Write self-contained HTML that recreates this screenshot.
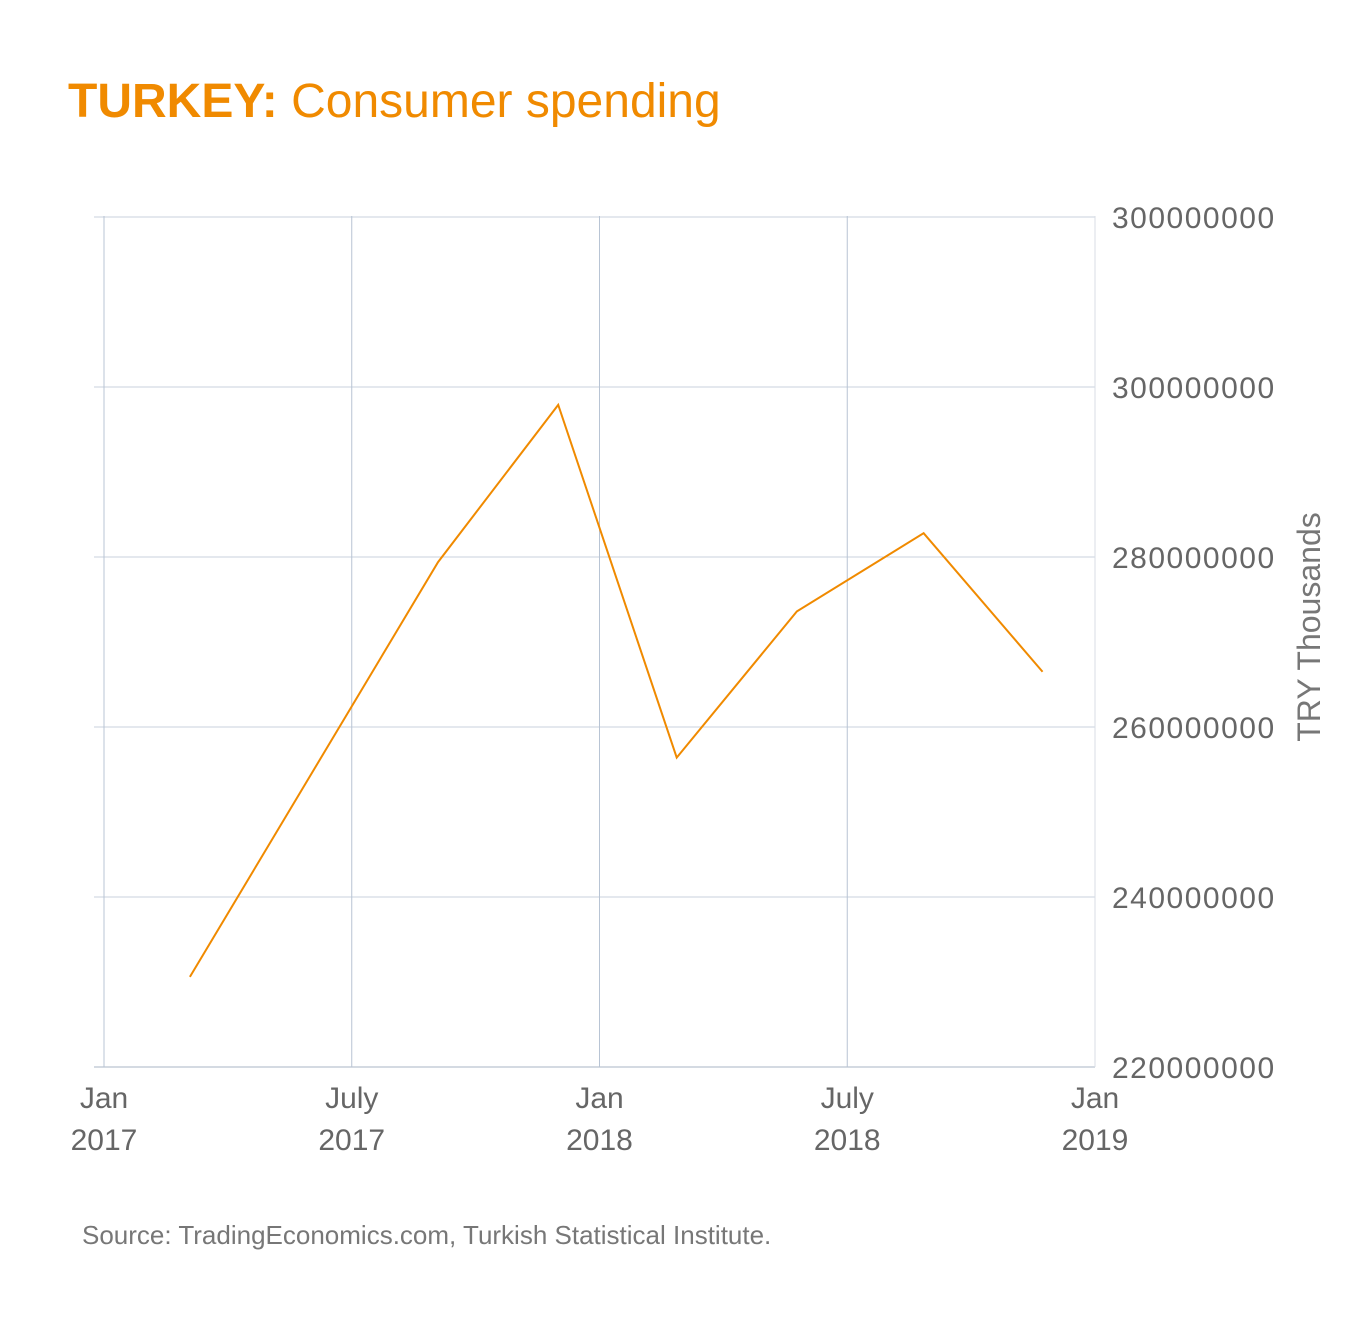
<!DOCTYPE html>
<html><head><meta charset="utf-8"><style>
body{margin:0;background:#fff;font-family:"Liberation Sans",sans-serif}
svg text{font-family:"Liberation Sans",sans-serif}
</style></head><body>
<svg width="1354" height="1312" viewBox="0 0 1354 1312">
<text x="68" y="117" font-size="48" fill="#f08a00"><tspan font-weight="bold">TURKEY:</tspan> Consumer spending</text>
<g id="grid"></g>
<g id="axes"></g>
<path id="line" fill="none" stroke="#f08a00" stroke-width="2"/>
<text transform="translate(1320,627) rotate(-90)" text-anchor="middle" font-size="32" fill="#777">TRY Thousands</text>
<text x="82" y="1244" font-size="26" fill="#777">Source: TradingEconomics.com, Turkish Statistical Institute.</text>
</svg>
<script>
const monthPos=[2.08,8.09,11.0,13.87,16.78,19.85,22.73];
const values=[230.6,279.4,297.9,256.4,273.6,282.8,266.5];
const yTicks=[220,240,260,280,300,320];
const yTickLabels=["220000000","240000000","260000000","280000000","300000000","300000000"];
const xTicks=[0,6,12,18,24];
const xTickLabels=[["Jan","2017"],["July","2017"],["Jan","2018"],["July","2018"],["Jan","2019"]];
const X=m=>104+m*(1095-104)/24;
const Y=v=>1067-(v-220)*170/20;
const ns="http://www.w3.org/2000/svg";
const grid=document.getElementById('grid'),axes=document.getElementById('axes');
function mk(tag,at,parent){const e=document.createElementNS(ns,tag);for(const k in at)e.setAttribute(k,at[k]);parent.appendChild(e);return e;}
yTicks.forEach((t,i)=>{
 const l=mk('line',{x1:94,x2:1095,y1:Y(t),y2:Y(t),stroke:i==0?'#aab4c4':'#c8d2de','stroke-width':1},grid);
 
 
 const tx=mk('text',{x:1112,y:Y(t)+11,'font-size':30,fill:'#666','letter-spacing':1.5},axes);
 tx.textContent=yTickLabels[i];
 
 
});
xTicks.forEach((m,i)=>{
 const l=mk('line',{x1:X(m),x2:X(m),y1:216,y2:1067,stroke:i==4?'#d8dee6':'#b8c4d4','stroke-width':1},grid);
 
 
 const tx=mk('text',{x:X(m),'font-size':30,fill:'#666','text-anchor':'middle'},axes);
 
 
 const a=mk('tspan',{x:X(m),y:1108},tx);a.textContent=xTickLabels[i][0];
 const b=mk('tspan',{x:X(m),y:1150},tx);b.textContent=xTickLabels[i][1];
});
document.getElementById('line').setAttribute('d',monthPos.map((m,i)=>(i?'L':'M')+X(m)+','+Y(values[i])).join(' '));
</script>
</body></html>
